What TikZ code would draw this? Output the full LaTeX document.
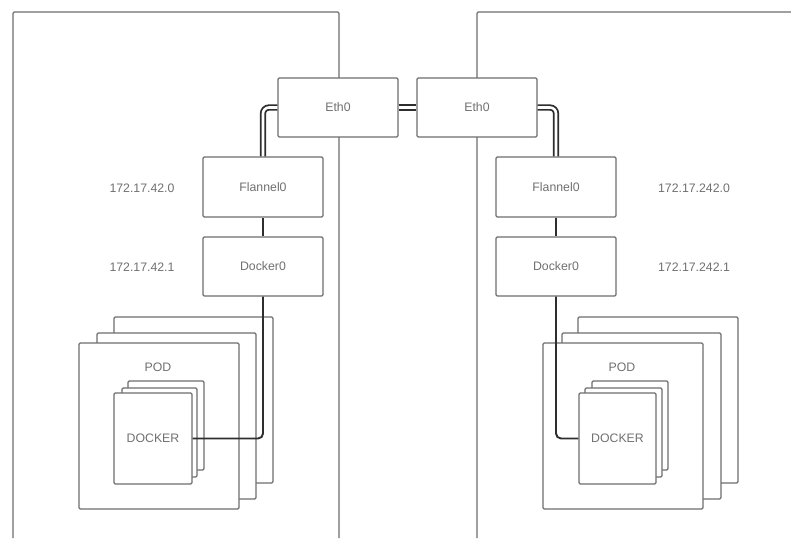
\documentclass[tikz,border=0pt]{standalone}
\usepackage{fontspec}
\setmainfont{Liberation Sans}
\begin{document}
\begin{tikzpicture}[x=1pt,y=-1pt,
  box/.style={draw=boxgray, line width=1.3pt, fill=white, rounded corners=1.2pt, inner sep=0pt, font=\fontsize{12.3}{14}\selectfont, text=txtgray},
  lbl/.style={font=\fontsize{12.3}{14}\selectfont, text=txtgray, inner sep=0pt},
  wire/.style={draw=wiregray, line width=1.9pt, rounded corners=5pt},
  dwire/.style={draw=wiregray, line width=1.8pt, double=white, double distance=2.6pt, rounded corners=6pt},
  host/.style={draw=boxgray, line width=1.3pt, rounded corners=1.2pt}]
\definecolor{boxgray}{HTML}{6E6E6E}
\definecolor{txtgray}{HTML}{707070}
\definecolor{wiregray}{HTML}{2E2E2E}
\useasboundingbox[fill=white] (0,0) rectangle (791,538);

% host boxes
\draw[host] (13,538) -- (13,12) -- (339,12) -- (339,538);
\draw[host] (477,538) -- (477,12) -- (795,12);

% left host
\node[box, minimum width=120pt, minimum height=59pt] (ethL) at (338,107.5) {Eth0};
\node[box, minimum width=120pt, minimum height=60pt] (flL) at (263,187) {Flannel0};
\node[box, minimum width=120pt, minimum height=59pt] (dkL) at (263,266.5) {Docker0};
\node[lbl] (ipL1) at (142,188) {172.17.42.0};
\node[lbl] (ipL2) at (142,267) {172.17.42.1};

\node[box, minimum width=159pt, minimum height=166pt] (podL3) at (193.5,400) {};
\node[box, minimum width=159pt, minimum height=166pt] (podL2) at (176.5,416) {};
\node[box, minimum width=160pt, minimum height=166pt] (podL1) at (159,426) {};
\node[lbl] (podLt) at (158,367) {POD};
\node[box, minimum width=76pt, minimum height=89pt] (dcL3) at (166,425.5) {};
\node[box, minimum width=75pt, minimum height=89pt] (dcL2) at (159.5,432.5) {};
\node[box, minimum width=78pt, minimum height=91pt] (dcL1) at (153,438.5) {DOCKER};

% right host
\node[box, minimum width=120pt, minimum height=59pt] (ethR) at (477,107.5) {Eth0};
\node[box, minimum width=120pt, minimum height=60pt] (flR) at (556,187) {Flannel0};
\node[box, minimum width=120pt, minimum height=59pt] (dkR) at (556,266.5) {Docker0};
\node[lbl] (ipR1) at (694,188) {172.17.242.0};
\node[lbl] (ipR2) at (694,267) {172.17.242.1};

\node[box, minimum width=160pt, minimum height=166pt] (podR3) at (658,400) {};
\node[box, minimum width=159pt, minimum height=166pt] (podR2) at (641.5,416) {};
\node[box, minimum width=160pt, minimum height=166pt] (podR1) at (623,426) {};
\node[lbl] (podRt) at (622,367) {POD};
\node[box, minimum width=76pt, minimum height=89pt] (dcR3) at (630,425.5) {};
\node[box, minimum width=77pt, minimum height=89pt] (dcR2) at (623.5,432.5) {};
\node[box, minimum width=77pt, minimum height=91pt] (dcR1) at (617.5,438.5) {DOCKER};

% connectors
\draw[dwire] (ethL.west) -| (flL.north);
\draw[dwire] (ethR.east) -| (flR.north);
\draw[dwire, rounded corners=0pt] (ethL.east) -- (ethR.west);
\draw[wire] (flL.south) -- (dkL.north);
\draw[wire] (flR.south) -- (dkR.north);
\draw[wire] (dkL.south) |- (dcL1.east);
\draw[wire] (dkR.south) |- (dcR1.west);
\end{tikzpicture}
\end{document}
